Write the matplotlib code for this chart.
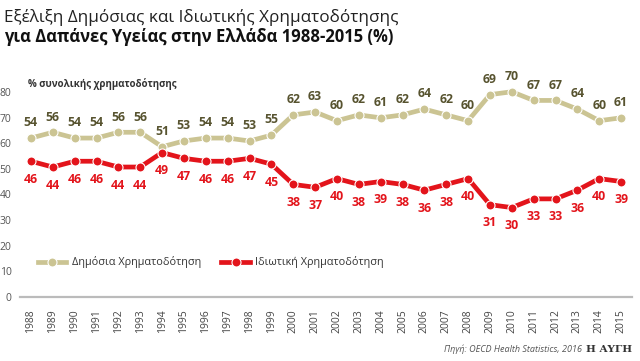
import numpy as np
import matplotlib
matplotlib.use("Agg")
import matplotlib.pyplot as plt
from matplotlib.lines import Line2D

plt.rcParams['font.family'] = ['Open Sans', 'DejaVu Sans']

years = list(range(1988, 2016))
public = [54, 56, 54, 54, 56, 56, 51, 53, 54, 54, 53, 55, 62, 63,
          60, 62, 61, 62, 64, 62, 60, 69, 70, 67, 67, 64, 60, 61]
private = [46, 44, 46, 46, 44, 44, 49, 47, 46, 46, 47, 45, 38, 37,
           40, 38, 39, 38, 36, 38, 40, 31, 30, 33, 33, 36, 40, 39]
ytick_labels = [0, 10, 20, 30, 40, 50, 60, 70, 80]

# the printed y axis is stretched relative to the values: label t sits at (t - 1) / 1.13
scale_a, scale_b = 1.13, 1.0
ytick_pos = [(t - scale_b) / scale_a for t in ytick_labels]

pub_line = '#cbc493'
pub_text = '#57532f'
red = '#e3141b'

fig = plt.figure(figsize=(6.4, 3.61), dpi=100)
W, H = 640, 361
ax = fig.add_axes([20 / W, 1 - 297 / H, 612 / W, (297 - 92) / H])

ax.plot(years, public, color=pub_line, lw=3.4, marker='o', ms=6.5,
        mfc=pub_line, mec='white', mew=0.8, clip_on=False, zorder=3)
ax.plot(years, private, color=red, lw=3.4, marker='o', ms=6.5,
        mfc=red, mec='white', mew=0.8, clip_on=False, zorder=3)

for x, v in zip(years, public):
    ax.annotate(str(v), (x, v), xytext=(0, 11), textcoords='offset points',
                ha='center', va='center', fontsize=8.8, fontweight='bold',
                color=pub_text)
for x, v in zip(years, private):
    ax.annotate(str(v), (x, v), xytext=(0, -13), textcoords='offset points',
                ha='center', va='center', fontsize=8.8, fontweight='bold',
                color=red)

ax.set_xlim(1987.5, 2015.5)
ax.set_ylim(ytick_pos[0], ytick_pos[-1])
ax.set_xticks(years)
ax.set_xticklabels([str(y) for y in years], rotation=90, fontsize=7.5,
                   color='#444444')
ax.set_yticks(ytick_pos)
ax.set_yticklabels([str(t) for t in ytick_labels], fontsize=7.5,
                   color='#555555')
ax.tick_params(length=0, axis='x', pad=9)
ax.tick_params(length=0, axis='y', pad=6)
for s in ['top', 'right', 'left']:
    ax.spines[s].set_visible(False)
ax.spines['bottom'].set_color('#bbbbbb')
ax.spines['bottom'].set_linewidth(1.6)

handles = [
    Line2D([0], [0], color=pub_line, lw=3.4, marker='o', ms=6.5,
           mfc=pub_line, mec='white', mew=0.8),
    Line2D([0], [0], color=red, lw=3.4, marker='o', ms=6.5,
           mfc=red, mec='white', mew=0.8),
]
ax.legend(handles, ['Δημόσια Χρηματοδότηση', 'Ιδιωτική Χρηματοδότηση'],
          loc='center left', bbox_to_anchor=(18 / 612, (297 - 262.5) / 205),
          ncol=2, frameon=False, fontsize=7.8, handlelength=2.6,
          handletextpad=0.5, columnspacing=1.9, borderpad=0,
          borderaxespad=0, labelcolor='#333333')

fig.text(4 / W, 1 - 18 / H, 'Εξέλιξη Δημόσιας και Ιδιωτικής Χρηματοδότησης',
         fontsize=12.3, color='#222222', va='center', ha='left')
fig.text(4 / W, 1 - 37 / H, 'για Δαπάνες Υγείας στην Ελλάδα 1988-2015 (%)',
         fontsize=12, fontweight='bold', color='#111111', va='center',
         ha='left')
fig.text(28 / W, 1 - 84 / H, '% συνολικής χρηματοδότησης', fontsize=7,
         fontweight='bold', color='#333333', va='center', ha='left')
fig.text(582 / W, 1 - 349 / H, 'Πηγή: OECD Health Statistics, 2016',
         fontsize=6.5, style='italic', color='#555555', va='center', ha='right')
fig.text(632 / W, 1 - 349 / H, 'Η ΑΥΓΗ', fontsize=7.5, fontweight='bold',
         family='DejaVu Serif', color='#333333', va='center', ha='right')

fig.savefig('out.png', dpi=100)
